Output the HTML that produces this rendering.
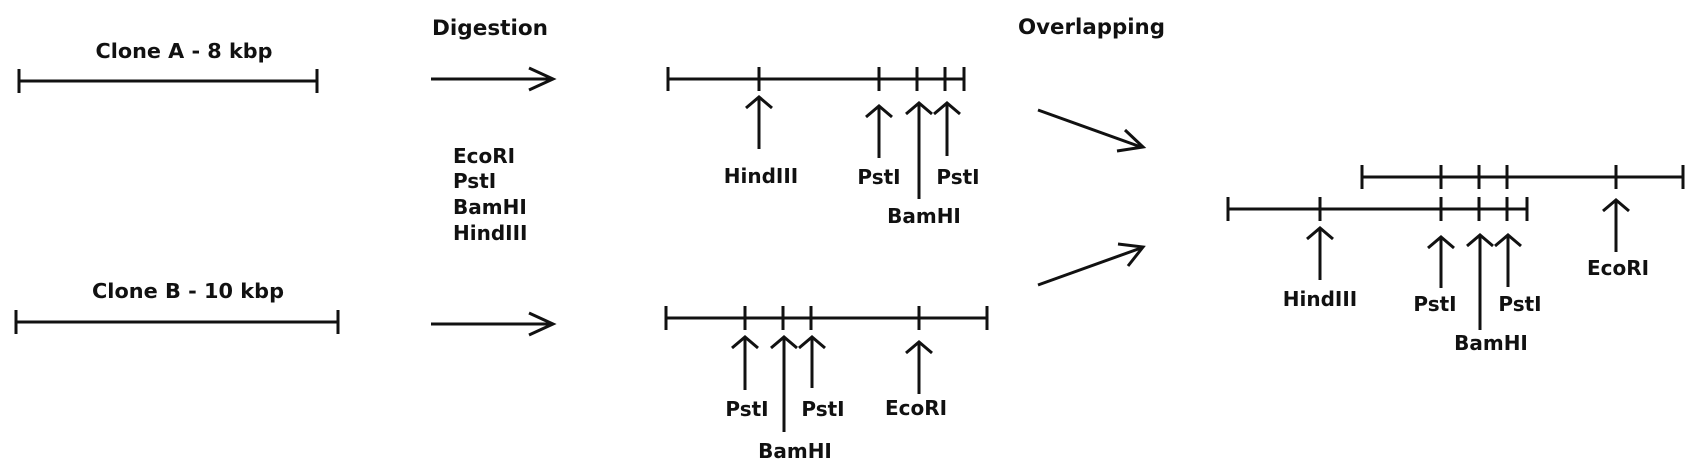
<!DOCTYPE html>
<html><head><meta charset="utf-8"><style>
html,body{margin:0;padding:0;background:#fff;}
svg{display:block;}
text{font-family:"DejaVu Sans","Liberation Sans",sans-serif;font-weight:bold;fill:#111;}
</style></head><body>
<svg width="1705" height="475" viewBox="0 0 1705 475" xmlns="http://www.w3.org/2000/svg">
<g stroke="#111" stroke-width="3" fill="none" stroke-linecap="butt">
<line x1="19" y1="81" x2="317" y2="81"/>
<line x1="19" y1="69" x2="19" y2="93"/><line x1="317" y1="69" x2="317" y2="93"/>
<line x1="16" y1="322" x2="338" y2="322"/>
<line x1="16" y1="310" x2="16" y2="334"/><line x1="338" y1="310" x2="338" y2="334"/>
<line x1="431" y1="79" x2="552" y2="79"/><polyline points="529,68 553,79 529,90"/>
<line x1="431" y1="324" x2="552" y2="324"/><polyline points="529,313 553,324 529,335"/>
<line x1="668" y1="79" x2="964" y2="79"/>
<line x1="668" y1="67" x2="668" y2="91"/><line x1="964" y1="67" x2="964" y2="91"/>
<line x1="759" y1="67" x2="759" y2="91"/><line x1="879" y1="67" x2="879" y2="91"/>
<line x1="917" y1="67" x2="917" y2="91"/><line x1="945" y1="67" x2="945" y2="91"/>
<line x1="759" y1="97" x2="759" y2="149"/><polyline points="746,108 759,97 772,108"/>
<line x1="879" y1="106" x2="879" y2="158"/><polyline points="866,117 879,106 892,117"/>
<line x1="919" y1="103" x2="919" y2="199"/><polyline points="906,114 919,103 932,114"/>
<line x1="947" y1="103" x2="947" y2="156"/><polyline points="934,114 947,103 960,114"/>
<line x1="666" y1="318" x2="987" y2="318"/>
<line x1="666" y1="306" x2="666" y2="330"/><line x1="987" y1="306" x2="987" y2="330"/>
<line x1="745" y1="306" x2="745" y2="330"/><line x1="783" y1="306" x2="783" y2="330"/>
<line x1="811" y1="306" x2="811" y2="330"/><line x1="919" y1="306" x2="919" y2="330"/>
<line x1="745" y1="337" x2="745" y2="390"/><polyline points="732,348 745,337 758,348"/>
<line x1="784" y1="337" x2="784" y2="432"/><polyline points="771,348 784,337 797,348"/>
<line x1="812" y1="337" x2="812" y2="388"/><polyline points="799,348 812,337 825,348"/>
<line x1="919" y1="342" x2="919" y2="394"/><polyline points="906,353 919,342 932,353"/>
<line x1="1038" y1="110" x2="1141" y2="147"/><polyline points="1125,130 1143,147 1117,151"/>
<line x1="1038" y1="285" x2="1141" y2="248"/><polyline points="1118,244 1143,247 1128,266"/>
<line x1="1362" y1="177" x2="1683" y2="177"/>
<line x1="1362" y1="165" x2="1362" y2="189"/><line x1="1683" y1="165" x2="1683" y2="189"/>
<line x1="1441" y1="165" x2="1441" y2="189"/><line x1="1479" y1="165" x2="1479" y2="189"/>
<line x1="1507" y1="165" x2="1507" y2="189"/><line x1="1616" y1="165" x2="1616" y2="189"/>
<line x1="1228" y1="209" x2="1527" y2="209"/>
<line x1="1228" y1="197" x2="1228" y2="221"/><line x1="1527" y1="197" x2="1527" y2="221"/>
<line x1="1320" y1="197" x2="1320" y2="221"/><line x1="1441" y1="197" x2="1441" y2="221"/>
<line x1="1479" y1="197" x2="1479" y2="221"/><line x1="1507" y1="197" x2="1507" y2="221"/>
<line x1="1320" y1="228" x2="1320" y2="280"/><polyline points="1307,239 1320,228 1333,239"/>
<line x1="1441" y1="237" x2="1441" y2="288"/><polyline points="1428,248 1441,237 1454,248"/>
<line x1="1480" y1="235" x2="1480" y2="330"/><polyline points="1467,246 1480,235 1493,246"/>
<line x1="1508" y1="235" x2="1508" y2="287"/><polyline points="1495,246 1508,235 1521,246"/>
<line x1="1616" y1="200" x2="1616" y2="252"/><polyline points="1603,211 1616,200 1629,211"/>
</g>
<g font-size="20">
<text x="184" y="58" text-anchor="middle" textLength="177" lengthAdjust="spacingAndGlyphs">Clone A - 8 kbp</text>
<text x="188" y="298" text-anchor="middle" textLength="192" lengthAdjust="spacingAndGlyphs">Clone B - 10 kbp</text>
<text x="432" y="35" font-size="21" textLength="116" lengthAdjust="spacingAndGlyphs">Digestion</text>
<text x="1018" y="34" font-size="21" textLength="147" lengthAdjust="spacingAndGlyphs">Overlapping</text>
<text x="453" y="163">EcoRI</text>
<text x="453" y="188">PstI</text>
<text x="453" y="214">BamHI</text>
<text x="453" y="240">HindIII</text>
<text x="761" y="183" text-anchor="middle">HindIII</text>
<text x="879" y="184" text-anchor="middle">PstI</text>
<text x="958" y="184" text-anchor="middle">PstI</text>
<text x="924" y="223" text-anchor="middle">BamHI</text>
<text x="747" y="416" text-anchor="middle">PstI</text>
<text x="823" y="416" text-anchor="middle">PstI</text>
<text x="916" y="415" text-anchor="middle">EcoRI</text>
<text x="795" y="458" text-anchor="middle">BamHI</text>
<text x="1320" y="306" text-anchor="middle">HindIII</text>
<text x="1435" y="311" text-anchor="middle">PstI</text>
<text x="1520" y="311" text-anchor="middle">PstI</text>
<text x="1491" y="350" text-anchor="middle">BamHI</text>
<text x="1618" y="275" text-anchor="middle">EcoRI</text>
</g>
</svg>
</body></html>
